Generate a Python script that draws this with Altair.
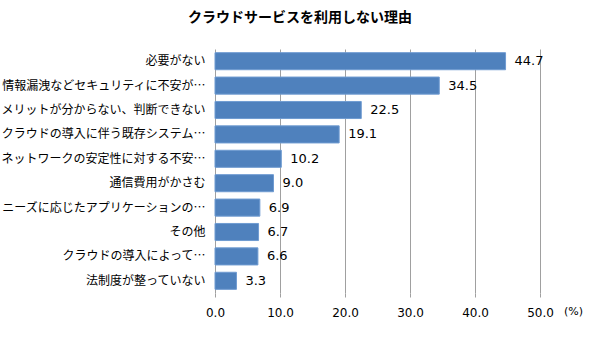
import altair as alt
import pandas as pd

categories = [
    "必要がない",
    "情報漏洩などセキュリティに不安が…",
    "メリットが分からない、判断できない",
    "クラウドの導入に伴う既存システム…",
    "ネットワークの安定性に対する不安…",
    "通信費用がかさむ",
    "ニーズに応じたアプリケーションの…",
    "その他",
    "クラウドの導入によって…",
    "法制度が整っていない",
]
values = [44.7, 34.5, 22.5, 19.1, 10.2, 9.0, 6.9, 6.7, 6.6, 3.3]
x_ticks = [0, 10, 20, 30, 40, 50]

df = pd.DataFrame({"cat": categories, "val": values})

JP = "Noto Sans CJK JP"
NUM = "DejaVu Sans"

y = alt.Y("cat:N", sort=categories, title=None,
          scale=alt.Scale(paddingInner=0.3, paddingOuter=0.15),
          axis=alt.Axis(ticks=False, domain=False, labelFont=JP, labelFontSize=12,
                        labelColor="#000000", labelPadding=10, labelLimit=220))
x = alt.X("val:Q", title=None,
          scale=alt.Scale(domain=[0, 50], nice=False),
          axis=alt.Axis(values=x_ticks, format=".1f", grid=True, gridColor="#a0a0a0",
                        gridWidth=1, domain=False, ticks=True, tickSize=4,
                        tickColor="#a0a0a0", labelFont=NUM, labelFontSize=12,
                        labelFlush=False, labelColor="#000000", labelPadding=10))

bars = alt.Chart(df).mark_bar(color="#4f81bd", stroke="#6f9bd1", strokeWidth=1).encode(x=x, y=y)
labels = alt.Chart(df).mark_text(align="left", baseline="middle", dx=9, font=NUM,
                                 fontSize=13, color="#000000").encode(
    x="val:Q", y=alt.Y("cat:N", sort=categories), text=alt.Text("val:Q", format=".1f"))

title = alt.Chart(pd.DataFrame({"t": ["クラウドサービスを利用しない理由"]})).mark_text(
    font=JP, fontSize=14, fontWeight="bold", align="center", baseline="middle", color="#000000"
).encode(x=alt.value(85), y=alt.value(-31), text="t:N")

unit = alt.Chart(pd.DataFrame({"t": ["(%)"]})).mark_text(
    font=NUM, fontSize=11, align="left", baseline="middle", color="#000000"
).encode(x=alt.value(349), y=alt.value(19 + 244), text="t:N")

chart = alt.layer(bars, labels, title, unit).properties(
    width=325, height=244,
    autosize=alt.AutoSizeParams(type="none"),
    padding={"left": 215, "top": 49, "right": 60, "bottom": 47},
    background="#ffffff",
).configure_view(stroke=None)

chart.save("out.html", embed_options={"renderer": "svg", "actions": False})
